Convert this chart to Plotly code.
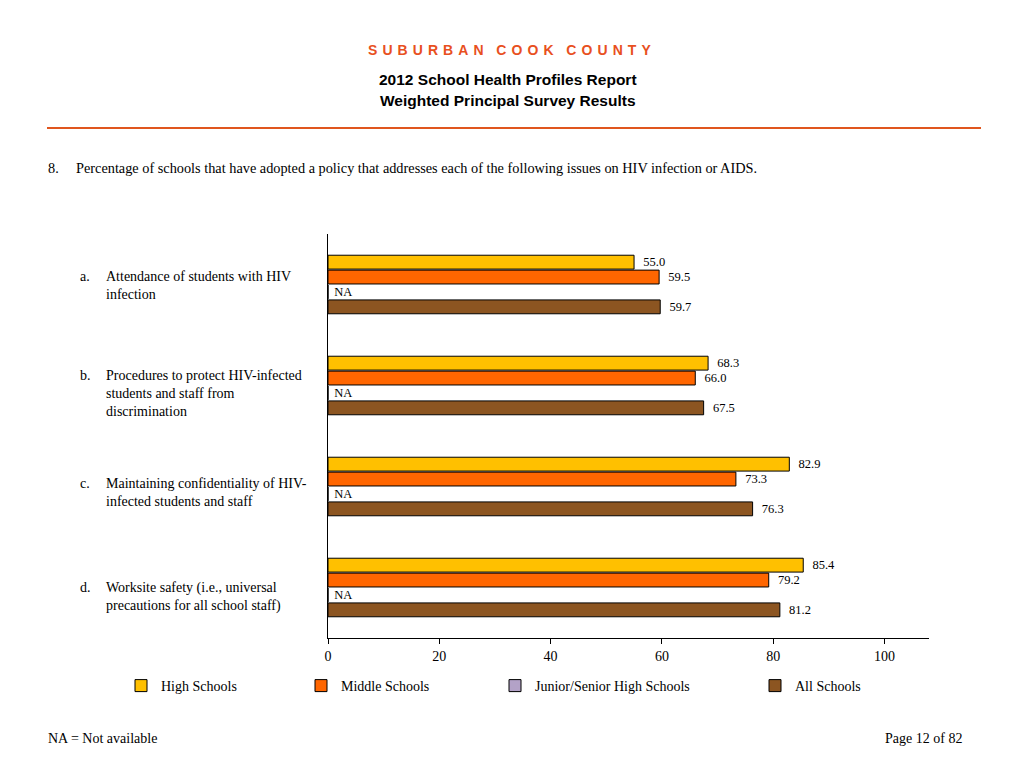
import plotly.graph_objects as go

categories = ["a", "b", "c", "d"]
category_labels = [
    "Attendance of students with HIV<br>infection",
    "Procedures to protect HIV-infected<br>students and staff from<br>discrimination",
    "Maintaining confidentiality of HIV-<br>infected students and staff",
    "Worksite safety (i.e., universal<br>precautions for all school staff)",
]
series_names = ["High Schools", "Middle Schools", "Junior/Senior High Schools", "All Schools"]
high = [55.0, 68.3, 82.9, 85.4]
middle = [59.5, 66.0, 73.3, 79.2]
junior = [None, None, None, None]
all_schools = [59.7, 67.5, 76.3, 81.2]
x_ticks = [0, 20, 40, 60, 80, 100]

colors = ["#FFC000", "#FF6600", "#B3A2C7", "#8C5521"]
SERIF = "Liberation Serif"
SANS = "Liberation Sans"
NB = "\u00a0"
HAIR = "\u200a"

fig = go.Figure()
legend_ids = ["legend", "legend2", "legend3", "legend4"]
for name, vals, col, lg in zip(series_names, [high, middle, junior, all_schools], colors, legend_ids):
    xs = [0 if v is None else v for v in vals]
    txt = [NB + "NA" if v is None else NB * 2 + f"{v:.1f}" for v in vals]
    fig.add_trace(go.Bar(
        y=categories, x=xs, orientation="h", name=name,
        marker=dict(color=col, line=dict(color="black", width=1)),
        text=txt, textposition="outside", cliponaxis=False,
        textfont=dict(family=SERIF, size=12.5, color="black"),
        legend=lg,
    ))

# plot area in pixels: x 328..929, y 234..638
L, R, T, B = 328, 929, 234, 638
W, H = R - L, B - T
def px(x):
    return (x - L) / W
def py(y):
    return (B - y) / H

lgap = NB + HAIR
wgap = NB * 3 + HAIR
title_letters = wgap.join(lgap.join(list(w)) for w in ["SUBURBAN", "COOK", "COUNTY"])

ann = []
ann.append(dict(text="<b>" + title_letters + "</b>", x=px(509), y=py(50), xref="paper", yref="paper",
                xanchor="center", yanchor="middle", showarrow=False,
                font=dict(family=SANS, size=14, color="#E8501E")))
ann.append(dict(text="<b>2012 School Health Profiles Report</b>", x=px(508), y=py(79), xref="paper", yref="paper",
                xanchor="center", yanchor="middle", showarrow=False,
                font=dict(family=SANS, size=15.5, color="black")))
ann.append(dict(text="<b>Weighted Principal Survey Results</b>", x=px(508), y=py(101), xref="paper", yref="paper",
                xanchor="center", yanchor="middle", showarrow=False,
                font=dict(family=SANS, size=15.5, color="black")))
ann.append(dict(text="8.", x=px(46), y=py(168), xref="paper", yref="paper", xanchor="left", yanchor="middle",
                showarrow=False, font=dict(family=SERIF, size=14.3, color="black")))
ann.append(dict(text="Percentage of schools that have adopted a policy that addresses each of the following issues on HIV infection or AIDS.",
                x=px(74), y=py(168), xref="paper", yref="paper", xanchor="left", yanchor="middle",
                showarrow=False, font=dict(family=SERIF, size=14.3, color="black")))
ann.append(dict(text="NA = Not available", x=px(46), y=py(738), xref="paper", yref="paper", xanchor="left",
                yanchor="middle", showarrow=False, font=dict(family=SERIF, size=14, color="black")))
ann.append(dict(text="Page 12 of 82", x=px(964), y=py(738), xref="paper", yref="paper", xanchor="right",
                yanchor="middle", showarrow=False, font=dict(family=SERIF, size=14, color="black")))

label_shift = [18, 20, 13, 10]
for cat, lab, sh in zip(categories, category_labels, label_shift):
    ann.append(dict(text=cat + ".", x=px(78), y=cat, xref="paper", yref="y", xanchor="left", yanchor="top",
                    yshift=sh, showarrow=False, align="left",
                    font=dict(family=SERIF, size=14, color="black")))
    ann.append(dict(text=lab, x=px(104), y=cat, xref="paper", yref="y", xanchor="left", yanchor="top",
                    yshift=sh, showarrow=False, align="left",
                    font=dict(family=SERIF, size=14, color="black")))

legend_x = [121, 301, 495, 755]
legend_common = dict(orientation="h", yanchor="middle", xanchor="left", y=py(686),
                     font=dict(family=SERIF, size=14, color="black"), bgcolor="rgba(0,0,0,0)")
layout_legends = {}
for lg, lx in zip(legend_ids, legend_x):
    layout_legends[lg] = dict(legend_common, x=px(lx))

fig.update_layout(
    width=1024, height=768,
    margin=dict(l=L, r=1024 - R, t=T, b=768 - B),
    paper_bgcolor="white", plot_bgcolor="white",
    barmode="group", bargap=0.41, bargroupgap=0.07,
    showlegend=True,
    annotations=ann,
    shapes=[dict(type="line", xref="paper", yref="paper", x0=px(47), x1=px(981), y0=py(128), y1=py(128),
                 line=dict(color="#E0561E", width=2))],
    xaxis=dict(range=[0, 108], tickvals=x_ticks, ticks="outside", ticklen=5, tickcolor="black",
               showline=True, linecolor="black", linewidth=1, showgrid=False, zeroline=False,
               tickfont=dict(family=SERIF, size=14, color="black")),
    yaxis=dict(autorange="reversed", showticklabels=False, ticks="", showline=True, linecolor="black",
               linewidth=1, showgrid=False, zeroline=False),
    **layout_legends,
)
fig.update_traces(constraintext="none")

fig.write_html("out.html", config={"displayModeBar": False},
               post_script="document.body.style.margin='0px';document.body.style.overflow='hidden';")
